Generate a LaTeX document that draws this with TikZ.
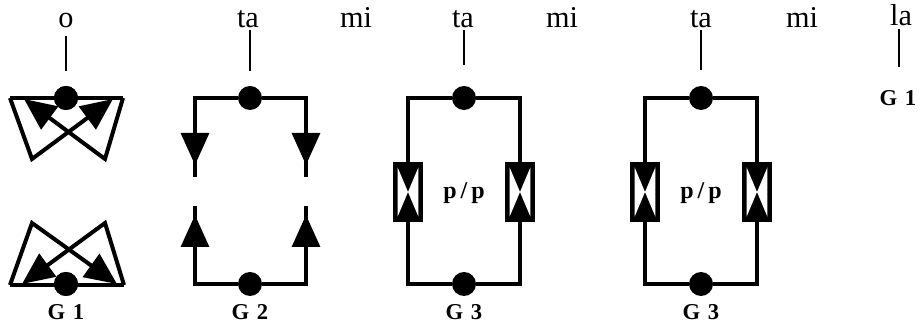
\documentclass[tikz,border=0pt]{standalone}
\usepackage{fontspec}
\setmainfont{Liberation Serif}
\usetikzlibrary{arrows.meta,positioning}

\begin{document}
\begin{tikzpicture}[
    x=0.75pt,y=-0.75pt,
    on grid,
    every node/.style={inner sep=0pt},
    word/.style={font=\fontsize{22.7}{26}\selectfont,anchor=base},
    tag/.style={font=\fontsize{17}{20}\selectfont\bfseries},
    slash/.style={font=\fontsize{18}{20}\selectfont\bfseries},
    dot/.style={circle,fill=black,minimum size=18pt},
    rail/.style={line width=2.3pt,line join=miter},
    heavy/.style={line width=3pt},
    stem/.style={line width=1.7pt},
    arrow/.style={rail,-{Triangle[length=24pt,width=21pt]}},
    valve/.style={rectangle,fill=black,minimum width=22pt,minimum height=45pt,
        path picture={
            \fill[white] ([xshift=3.2pt,yshift=-4pt]path picture bounding box.north west) -- (path picture bounding box.center)
                -- ([xshift=3.2pt,yshift=4pt]path picture bounding box.south west) -- cycle;
            \fill[white] ([xshift=-3.2pt,yshift=-4pt]path picture bounding box.north east) -- (path picture bounding box.center)
                -- ([xshift=-3.2pt,yshift=4pt]path picture bounding box.south east) -- cycle;
        }}
]
\useasboundingbox (0,0) rectangle (922,327);
% G1
\node[word] (o) at (66,28) {o};
\node[dot] (t1) at (66,98) {};
\node[dot,below=139.5pt of t1] (b1) {};
\node[tag,below=21pt of b1] (g1) {G\,\,1};
\coordinate[above=46.5pt of t1] (s1);
\coordinate[above=20pt of t1] (e1);
\coordinate (tl1) at (10,98);
\coordinate (tr1) at (123,98);
\coordinate (ml1) at (32,159);
\coordinate (mr1) at (105,159);
\coordinate (tipl1) at (24,99);
\coordinate (tipr1) at (113,99);
\coordinate (bl1) at (10,285);
\coordinate (br1) at (124,285);
\coordinate (nl1) at (32,223);
\coordinate (nr1) at (105,223);
\coordinate (pl1) at (22,284);
\coordinate (pr1) at (117,284);
\draw[stem] (s1) -- (e1);
\draw[rail,heavy] (tl1) -- (tr1);
\draw[rail,heavy] (bl1) -- (br1);
\draw[arrow,heavy] (tl1) -- (ml1) -- (tipr1);
\draw[arrow,heavy] (tr1) -- (mr1) -- (tipl1);
\draw[arrow,heavy] (bl1) -- (nl1) -- (pr1);
\draw[arrow,heavy] (br1) -- (nr1) -- (pl1);
\node[dot] at (t1) {};
\node[dot] at (b1) {};
% G2
\node[word] (ta2) at (248,28) {ta};
\node[word] (mi2) at (356,28) {mi};
\node[dot] (t2) at (250,98) {};
\node[dot,below=139.5pt of t2] (b2) {};
\node[tag,below=21pt of b2] (g2) {G\,\,2};
\coordinate (a2l) at (195,165);
\coordinate (a2r) at (306,165);
\coordinate (e2l) at (195,177);
\coordinate (e2r) at (306,177);
\coordinate (c2l) at (195,215);
\coordinate (c2r) at (306,215);
\coordinate (d2l) at (195,206);
\coordinate (d2r) at (306,206);
\coordinate[above=51pt of t2] (s2);
\coordinate[above=20pt of t2] (u2);
\draw[stem] (s2) -- (u2);
\draw[rail] (t2) -| (e2l);
\draw[rail] (t2) -| (e2r);
\draw[arrow] (t2) -| (a2l);
\draw[arrow] (t2) -| (a2r);
\draw[rail] (b2) -| (d2l);
\draw[rail] (b2) -| (d2r);
\draw[arrow] (b2) -| (c2l);
\draw[arrow] (b2) -| (c2r);
% G3
\node[word] (ta3) at (463,28) {ta};
\node[word] (mi3) at (562,28) {mi};
\node[dot] (t3) at (464,98) {};
\node[dot,below=139.5pt of t3] (b3) {};
\node[tag,below=21pt of b3] (g3) {G\,\,3};
\node[valve,below left=70.5pt and 42pt of t3] (v3l) {};
\node[valve,below right=70.5pt and 42pt of t3] (v3r) {};
\node[slash,below=71pt of t3] (p3) {p\,/\,p};
\coordinate[above=51pt of t3] (s3);
\coordinate[above=25pt of t3] (u3);
\draw[stem] (s3) -- (u3);
\draw[rail] (v3l) |- (t3) -| (v3r);
\draw[rail] (v3l) |- (b3) -| (v3r);
% G3, second
\node[word] (ta4) at (701,28) {ta};
\node[word] (mi4) at (802,28) {mi};
\node[dot] (t4) at (701,98) {};
\node[dot,below=139.5pt of t4] (b4) {};
\node[tag,below=21pt of b4] (g4) {G\,\,3};
\node[valve,below left=70.5pt and 42pt of t4] (v4l) {};
\node[valve,below right=70.5pt and 42pt of t4] (v4r) {};
\node[slash,below=71pt of t4] (p4) {p\,/\,p};
\coordinate[above=51pt of t4] (s4);
\coordinate[above=21pt of t4] (u4);
\draw[stem] (s4) -- (u4);
\draw[rail] (v4l) |- (t4) -| (v4r);
\draw[rail] (v4l) |- (b4) -| (v4r);
% la
\node[word] (la) at (901,26) {la};
\node[tag] (g5) at (898,98) {G\,\,1};
\coordinate (s5) at (899,29);
\coordinate (u5) at (899,67);
\draw[stem] (s5) -- (u5);
\end{tikzpicture}
\end{document}
